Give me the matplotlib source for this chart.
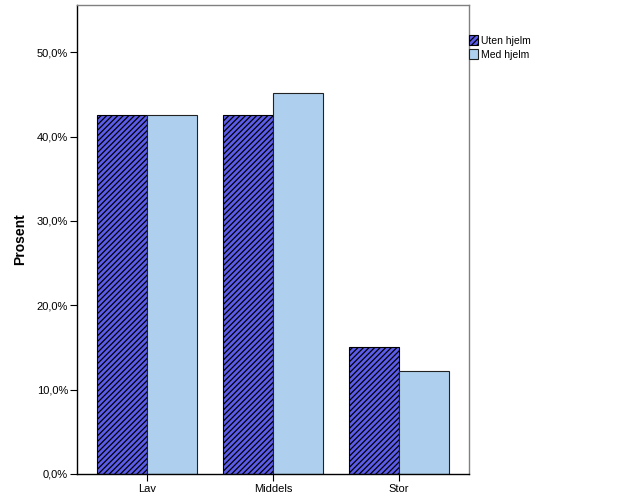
import matplotlib
matplotlib.use('Agg')
import matplotlib.pyplot as plt
import numpy as np
from matplotlib.ticker import FuncFormatter

plt.rcParams['font.family'] = ['Liberation Sans', 'DejaVu Sans']
plt.rcParams['hatch.linewidth'] = 0.9

categories = ['Lav', 'Middels', 'Stor']
uten_hjelm = [42.5, 42.5, 15.1]
med_hjelm = [42.6, 45.2, 12.2]

fig = plt.figure(figsize=(6.26, 5.01), dpi=100)
ax = fig.add_axes([0.123, 0.054, 0.626, 0.936])

x = np.arange(len(categories))
w = 0.397
ax.bar(x - w/2, uten_hjelm, w, color='#5c5cec', edgecolor='black', hatch='//////',
       linewidth=0.8, label='Uten hjelm')
ax.bar(x + w/2, med_hjelm, w, color='#aed0ee', edgecolor='#222222',
       linewidth=0.8, label='Med hjelm')

ax.set_xlim(-0.556, 2.556)
ax.set_ylim(0, 55.6)
ax.set_xticks(x)
ax.set_xticklabels(categories, fontsize=8)
ax.set_yticks(np.arange(0, 51, 10))
ax.yaxis.set_major_formatter(FuncFormatter(lambda v, p: ('%.1f%%' % v).replace('.', ',')))
ax.tick_params(axis='y', labelsize=8, length=5, width=0.8, pad=1.5)
ax.tick_params(axis='x', labelsize=8, length=5, width=0.8, pad=2.5)
ax.set_ylabel('Prosent', fontsize=10, fontweight='bold', labelpad=7)

ax.spines['left'].set_color('black')
ax.spines['bottom'].set_color('black')
ax.spines['top'].set_color('#808080')
ax.spines['right'].set_color('#808080')
for s in ax.spines.values():
    s.set_linewidth(1.0)

ax.legend(loc='upper left', bbox_to_anchor=(1.0, 0.935), frameon=False, fontsize=7.5,
          handlelength=0.9, handleheight=1.0, handletextpad=0.3, labelspacing=0.35,
          borderaxespad=0.0, borderpad=0.0)

plt.savefig('out.png', dpi=100)
